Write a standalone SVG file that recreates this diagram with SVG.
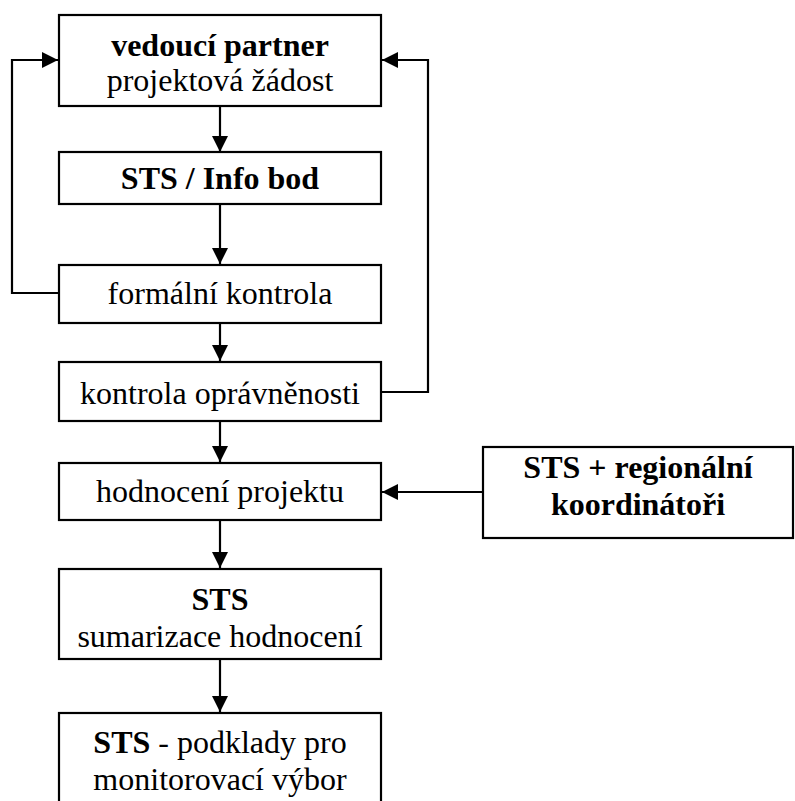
<svg xmlns="http://www.w3.org/2000/svg" width="795" height="801" viewBox="0 0 795 801">
<defs>
<marker id="ah" markerWidth="16" markerHeight="16" viewBox="0 0 16 16" refX="16" refY="8" orient="auto" markerUnits="userSpaceOnUse">
<path d="M0,0 L16,8 L0,16 Z" fill="#000"/>
</marker>
<style>
.box{fill:#fff;stroke:#000;stroke-width:2.2}
.t{font-size:32px;fill:#000;text-anchor:middle}
.b{font-weight:bold}
.c{fill:none;stroke:#000;stroke-width:2.2}
</style>
</defs>
<rect width="795" height="801" fill="#fff"/>
<g id="connectors">
<line class="c" x1="220" y1="106" x2="220" y2="152" marker-end="url(#ah)"/>
<line class="c" x1="220" y1="204" x2="220" y2="264" marker-end="url(#ah)"/>
<line class="c" x1="220" y1="323" x2="220" y2="361" marker-end="url(#ah)"/>
<line class="c" x1="220" y1="421" x2="220" y2="462" marker-end="url(#ah)"/>
<line class="c" x1="220" y1="520" x2="220" y2="568" marker-end="url(#ah)"/>
<line class="c" x1="220" y1="659" x2="220" y2="712" marker-end="url(#ah)"/>
<polyline class="c" points="59,293 12,293 12,60 58,60" marker-end="url(#ah)"/>
<polyline class="c" points="381,392 428,392 428,60 382,60" marker-end="url(#ah)"/>
<line class="c" x1="483" y1="492" x2="382" y2="492" marker-end="url(#ah)"/>
</g>
<g font-family="'Liberation Serif', 'DejaVu Serif', serif">
<g id="n1">
<rect class="box" x="59" y="15" width="322" height="91"/>
<text class="t b" x="220" y="56">vedoucí partner</text>
<text class="t" x="220" y="91">projektová žádost</text>
</g>
<g id="n2">
<rect class="box" x="59" y="152" width="322" height="52"/>
<text class="t b" x="220" y="189">STS / Info bod</text>
</g>
<g id="n3">
<rect class="box" x="59" y="265" width="322" height="58"/>
<text class="t" x="220" y="304">formální kontrola</text>
</g>
<g id="n4">
<rect class="box" x="59" y="362" width="322" height="59"/>
<text class="t" x="220" y="404">kontrola oprávněnosti</text>
</g>
<g id="n5">
<rect class="box" x="59" y="463" width="322" height="57"/>
<text class="t" x="220" y="502">hodnocení projektu</text>
</g>
<g id="n6">
<rect class="box" x="483" y="447" width="310" height="91"/>
<text class="t b" x="638" y="478">STS + regionální</text>
<text class="t b" x="638" y="515">koordinátoři</text>
</g>
<g id="n7">
<rect class="box" x="59" y="569" width="322" height="90"/>
<text class="t b" x="220" y="610">STS</text>
<text class="t" x="220" y="647">sumarizace hodnocení</text>
</g>
<g id="n8">
<rect class="box" x="59" y="713" width="322" height="100"/>
<text class="t" x="220" y="753"><tspan class="b">STS</tspan> - podklady pro</text>
<text class="t" x="220" y="790">monitorovací výbor</text>
</g>
</g>
</svg>
